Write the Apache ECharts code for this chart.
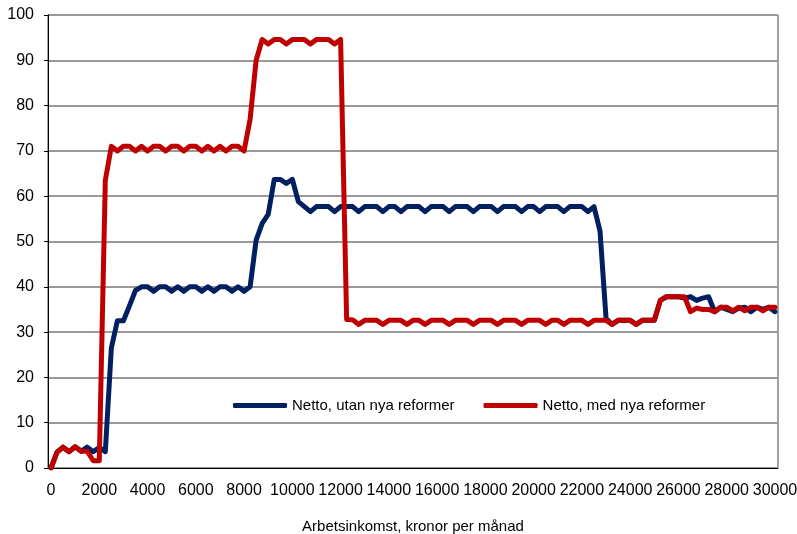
<!DOCTYPE html>
<html>
<head>
<meta charset="utf-8">
<script src="https://cdn.jsdelivr.net/npm/echarts@6/dist/echarts.min.js"></script>
<style>
  html, body { margin: 0; padding: 0; background: #fff; }
  #chart { width: 797px; height: 534px; }
</style>
</head>
<body>
<div id="chart"></div>
<script>
// inkomst i steg om 250 kr, 0 - 30000
var inkomst = [];
for (var k = 0; k <= 30000; k += 250) { inkomst.push(String(k)); }

// Netto, utan nya reformer
var utanReformer = [
  0, 3.5, 4.6, 3.6, 4.7, 3.7, 4.6, 3.6, 4.5, 3.6,
  26.5, 32.5, 32.5, 35.8, 39.2, 40, 40, 39, 40, 40,
  39, 40, 39, 40, 40, 39, 40, 39, 40, 40,
  39, 40, 39, 40, 50.3, 54, 56, 63.7, 63.7, 62.8,
  63.7, 58.8, 57.7, 56.6, 57.7, 57.7, 57.7, 56.6, 57.7, 57.7,
  57.7, 56.6, 57.7, 57.7, 57.7, 56.6, 57.7, 57.7, 56.6, 57.7,
  57.7, 57.7, 56.6, 57.7, 57.7, 57.7, 56.6, 57.7, 57.7, 57.7,
  56.6, 57.7, 57.7, 57.7, 56.6, 57.7, 57.7, 57.7, 56.6, 57.7,
  57.7, 56.6, 57.7, 57.7, 57.7, 56.6, 57.7, 57.7, 57.7, 56.6,
  57.7, 52.3, 33, 31.7, 32.6, 32.6, 32.6, 31.7, 32.6, 32.6,
  32.6, 37, 37.8, 37.8, 37.8, 37.5, 37.8, 37, 37.5, 37.8,
  34.5, 35.5, 35, 34.5, 35.3, 35.5, 34.5, 35.5, 35, 35.5,
  34.5
];

// Netto, med nya reformer
var medReformer = [
  0, 3.5, 4.6, 3.6, 4.7, 3.7, 3.7, 1.6, 1.6, 63.5,
  71, 70, 71, 71, 70, 71, 70, 71, 71, 70,
  71, 71, 70, 71, 71, 70, 71, 70, 71, 70,
  71, 71, 70, 77, 90, 94.6, 93.6, 94.6, 94.6, 93.6,
  94.6, 94.6, 94.6, 93.6, 94.6, 94.6, 94.6, 93.6, 94.6, 32.8,
  32.7, 31.7, 32.6, 32.6, 32.6, 31.7, 32.6, 32.6, 32.6, 31.7,
  32.6, 32.6, 31.7, 32.6, 32.6, 32.6, 31.7, 32.6, 32.6, 32.6,
  31.7, 32.6, 32.6, 32.6, 31.7, 32.6, 32.6, 32.6, 31.7, 32.6,
  32.6, 32.6, 31.7, 32.6, 32.6, 31.7, 32.6, 32.6, 32.6, 31.7,
  32.6, 32.6, 32.6, 31.7, 32.6, 32.6, 32.6, 31.7, 32.6, 32.6,
  32.6, 37, 37.8, 37.8, 37.8, 37.8, 34.5, 35.3, 35, 35,
  34.5, 35.5, 35.5, 34.7, 35.5, 34.7, 35.5, 35.5, 34.7, 35.5,
  35.5
];

var serieNamn = ['Netto, utan nya reformer', 'Netto, med nya reformer'];
var axelNamn = 'Arbetsinkomst, kronor per månad';

var font = '"Liberation Sans", Arial, sans-serif';

var chart = echarts.init(document.getElementById('chart'));

chart.setOption({
  animation: false,
  backgroundColor: '#fff',
  textStyle: { fontFamily: font },
  grid: {
    left: 48, right: 19, top: 15, bottom: 66,
    outerBoundsMode: 'none',
    containLabel: false,
    show: true, borderColor: '#444', borderWidth: 1
  },
  legend: {
    data: serieNamn,
    left: 233, top: 398,
    padding: 0,
    itemWidth: 54, itemHeight: 5, itemGap: 29,
    icon: 'roundRect',
    textStyle: { fontFamily: font, fontSize: 15, color: '#000' }
  },
  xAxis: [{
    type: 'category',
    data: inkomst,
    boundaryGap: true,
    name: axelNamn,
    nameLocation: 'middle',
    nameGap: 51,
    nameTextStyle: { fontFamily: font, fontSize: 15, color: '#000' },
    axisLine: { lineStyle: { color: '#000', width: 1 } },
    axisTick: { interval: 5, length: 5, lineStyle: { color: '#000' } },
    axisLabel: { interval: 7, fontFamily: font, fontSize: 16, color: '#000', margin: 15 },
    splitLine: { show: false }
  }, {
    // korta streck innanför axeln
    type: 'category',
    data: inkomst,
    boundaryGap: true,
    position: 'bottom',
    axisLine: { show: false },
    axisTick: { inside: true, interval: 5, length: 5, lineStyle: { color: '#000' } },
    axisLabel: { show: false },
    splitLine: { show: false }
  }],
  yAxis: {
    type: 'value',
    min: 0, max: 100, interval: 10,
    axisLine: { show: true, lineStyle: { color: '#000', width: 1 } },
    axisTick: { show: true, length: 4, lineStyle: { color: '#000' } },
    axisLabel: { fontFamily: font, fontSize: 16, color: '#000', margin: 14 },
    splitLine: { lineStyle: { color: '#9a9a9a', width: 2 } }
  },
  series: [{
    name: serieNamn[0],
    type: 'line',
    data: utanReformer,
    showSymbol: false,
    symbol: 'none',
    color: '#002060',
    lineStyle: { width: 5, color: '#002060', cap: 'round', join: 'round' }
  }, {
    name: serieNamn[1],
    type: 'line',
    data: medReformer,
    showSymbol: false,
    symbol: 'none',
    color: '#c00000',
    lineStyle: { width: 5, color: '#c00000', cap: 'round', join: 'round' }
  }]
});
</script>
</body>
</html>
